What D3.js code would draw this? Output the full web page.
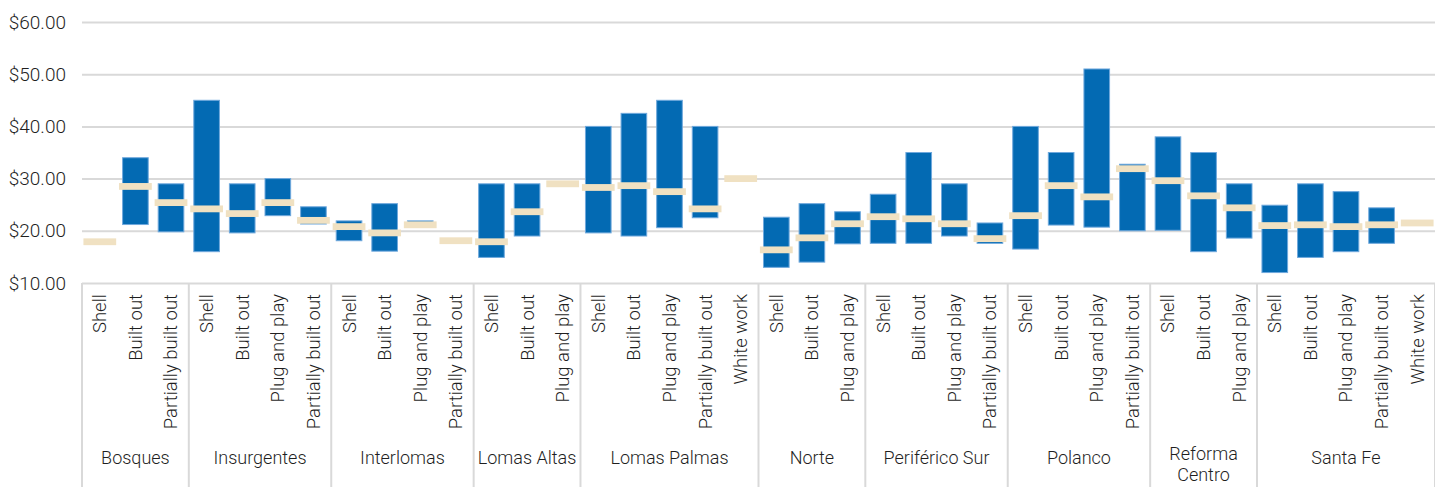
<!DOCTYPE html>
<html>
<head>
<meta charset="utf-8">
<script src="https://cdn.jsdelivr.net/npm/d3@7"></script>
<style>
    body { margin: 0; background: #fff; }
    svg text { font-family: Roboto, "Liberation Sans", sans-serif; font-weight: 300; fill: #1f1f1f; }
</style>
</head>
<body>
<svg id="chart"></svg>
<script>
// Submarkets and the space types quoted in each
const groupNames = ["Bosques", "Insurgentes", "Interlomas", "Lomas Altas", "Lomas Palmas",
    "Norte", "Periférico Sur", "Polanco", "Reforma Centro", "Santa Fe"];
const groupTypes = [
    ["Shell", "Built out", "Partially built out"],
    ["Shell", "Built out", "Plug and play", "Partially built out"],
    ["Shell", "Built out", "Plug and play", "Partially built out"],
    ["Shell", "Built out", "Plug and play"],
    ["Shell", "Built out", "Plug and play", "Partially built out", "White work"],
    ["Shell", "Built out", "Plug and play"],
    ["Shell", "Built out", "Plug and play", "Partially built out"],
    ["Shell", "Built out", "Plug and play", "Partially built out"],
    ["Shell", "Built out", "Plug and play"],
    ["Shell", "Built out", "Plug and play", "Partially built out", "White work"]
];

// Rent range (low / high) and average, one entry per type in order above
const lowValues = [
    null, 21.2, 19.8,
    16.0, 19.6, 22.9, 21.3,
    18.1, 16.1, 21.3, null,
    14.9, 19.0, null,
    19.6, 19.0, 20.6, 22.5, null,
    13.0, 14.0, 17.5,
    17.6, 17.6, 19.0, 17.6,
    16.5, 21.1, 20.7, 20.0,
    20.1, 16.0, 18.6,
    12.0, 14.9, 16.0, 17.6, null
];
const highValues = [
    null, 34.0, 29.0,
    45.0, 29.0, 30.0, 24.6,
    21.9, 25.2, 21.9, null,
    29.0, 29.0, null,
    40.0, 42.5, 45.0, 40.0, null,
    22.6, 25.2, 23.65,
    27.0, 35.0, 29.0, 21.5,
    40.0, 35.0, 51.0, 32.75,
    38.0, 35.0, 29.0,
    24.9, 29.0, 27.5, 24.4, null
];
const avgValues = [
    17.9, 28.5, 25.4,
    24.2, 23.3, 25.4, 22.0,
    20.8, 19.6, 21.15, 18.1,
    17.9, 23.65, 29.0,
    28.3, 28.65, 27.5, 24.2, 30.0,
    16.35, 18.65, 21.35,
    22.7, 22.3, 21.35, 18.5,
    22.9, 28.65, 26.5, 31.9,
    29.6, 26.7, 24.4,
    21.0, 21.15, 20.8, 21.15, 21.5
];
const yTicks = [10, 20, 30, 40, 50, 60];

const margin = { top: 22, right: 0, bottom: 204, left: 82 },
    totalWidth = 1435,
    totalHeight = 487,
    width = totalWidth - margin.left - margin.right,
    height = totalHeight - margin.top - margin.bottom;

// flatten into one row per bar
const rows = [];
groupNames.forEach((g, gi) => {
    groupTypes[gi].forEach(t => rows.push({ group: g, type: t }));
});
rows.forEach((d, i) => {
    d.key = d.group + "|" + d.type;
    d.low = lowValues[i];
    d.high = highValues[i];
    d.avg = avgValues[i];
});

const svg = d3.select("#chart")
    .attr("width", totalWidth)
    .attr("height", totalHeight)
    .append("g")
    .attr("transform", `translate(${margin.left},${margin.top})`);

const x = d3.scaleBand()
    .domain(rows.map(d => d.key))
    .range([0, width]);

const y = d3.scaleLinear()
    .domain([10, 60])
    .range([height, 0]);

// gridlines + y labels
const yAxis = svg.append("g")
    .call(d3.axisLeft(y)
        .tickValues(yTicks)
        .tickSize(-width)
        .tickPadding(16)
        .tickFormat(d3.format("$.2f")));
yAxis.select(".domain").remove();
yAxis.selectAll(".tick line").attr("stroke", "#d9d9d9").attr("stroke-width", 2);
yAxis.selectAll(".tick text")
    .style("font-size", "19px")
    .attr("fill", "#1f1f1f");

// range bars
const bw = x.bandwidth();
svg.selectAll(".range")
    .data(rows.filter(d => d.low != null))
    .join("rect")
    .attr("class", "range")
    .attr("x", d => x(d.key) + bw * 0.14)
    .attr("width", bw * 0.72)
    .attr("y", d => y(d.high))
    .attr("height", d => y(d.low) - y(d.high))
    .attr("fill", "#036ab3")
    .attr("stroke", "#6fa8dc")
    .attr("stroke-width", 1);

// average markers
svg.selectAll(".avg")
    .data(rows)
    .join("rect")
    .attr("class", "avg")
    .attr("x", d => x(d.key) + bw * 0.04)
    .attr("width", bw * 0.92)
    .attr("y", d => y(d.avg) - 3.4)
    .attr("height", 6.8)
    .attr("fill", "#f0e1c2");

// category axis: separators between submarkets
const bounds = [0];
let n = 0;
groupTypes.forEach(t => { n += t.length; bounds.push(n); });

svg.selectAll(".sep")
    .data(bounds)
    .join("line")
    .attr("class", "sep")
    .attr("x1", i => i * bw)
    .attr("x2", i => i * bw)
    .attr("y1", height)
    .attr("y2", totalHeight - margin.top)
    .attr("stroke", "#d9d9d9")
    .attr("stroke-width", 2);

// space type labels, rotated
svg.selectAll(".type-label")
    .data(rows)
    .join("text")
    .attr("class", "type-label")
    .attr("transform", d => `translate(${x(d.key) + bw / 2},${height + 11}) rotate(-90)`)
    .attr("text-anchor", "end")
    .attr("dy", "0.35em")
    .style("font-size", "18.5px")
    .text(d => d.type);

// submarket labels, wrapped when wider than their span
groupNames.forEach((g, gi) => {
    const x0 = bounds[gi] * bw, x1 = bounds[gi + 1] * bw;
    const label = svg.append("text")
        .attr("class", "group-label")
        .attr("x", (x0 + x1) / 2)
        .attr("y", height + 181)
        .attr("text-anchor", "middle")
        .style("font-size", "18px")
        .text(g);
    if (label.node().getComputedTextLength() > x1 - x0 - 4) {
        const words = g.split(" ");
        label.text(null).attr("y", height + 177);
        words.forEach((w, wi) => {
            label.append("tspan")
                .attr("x", (x0 + x1) / 2)
                .attr("dy", wi === 0 ? 0 : 21.2)
                .text(w);
        });
    }
});
</script>
</body>
</html>
